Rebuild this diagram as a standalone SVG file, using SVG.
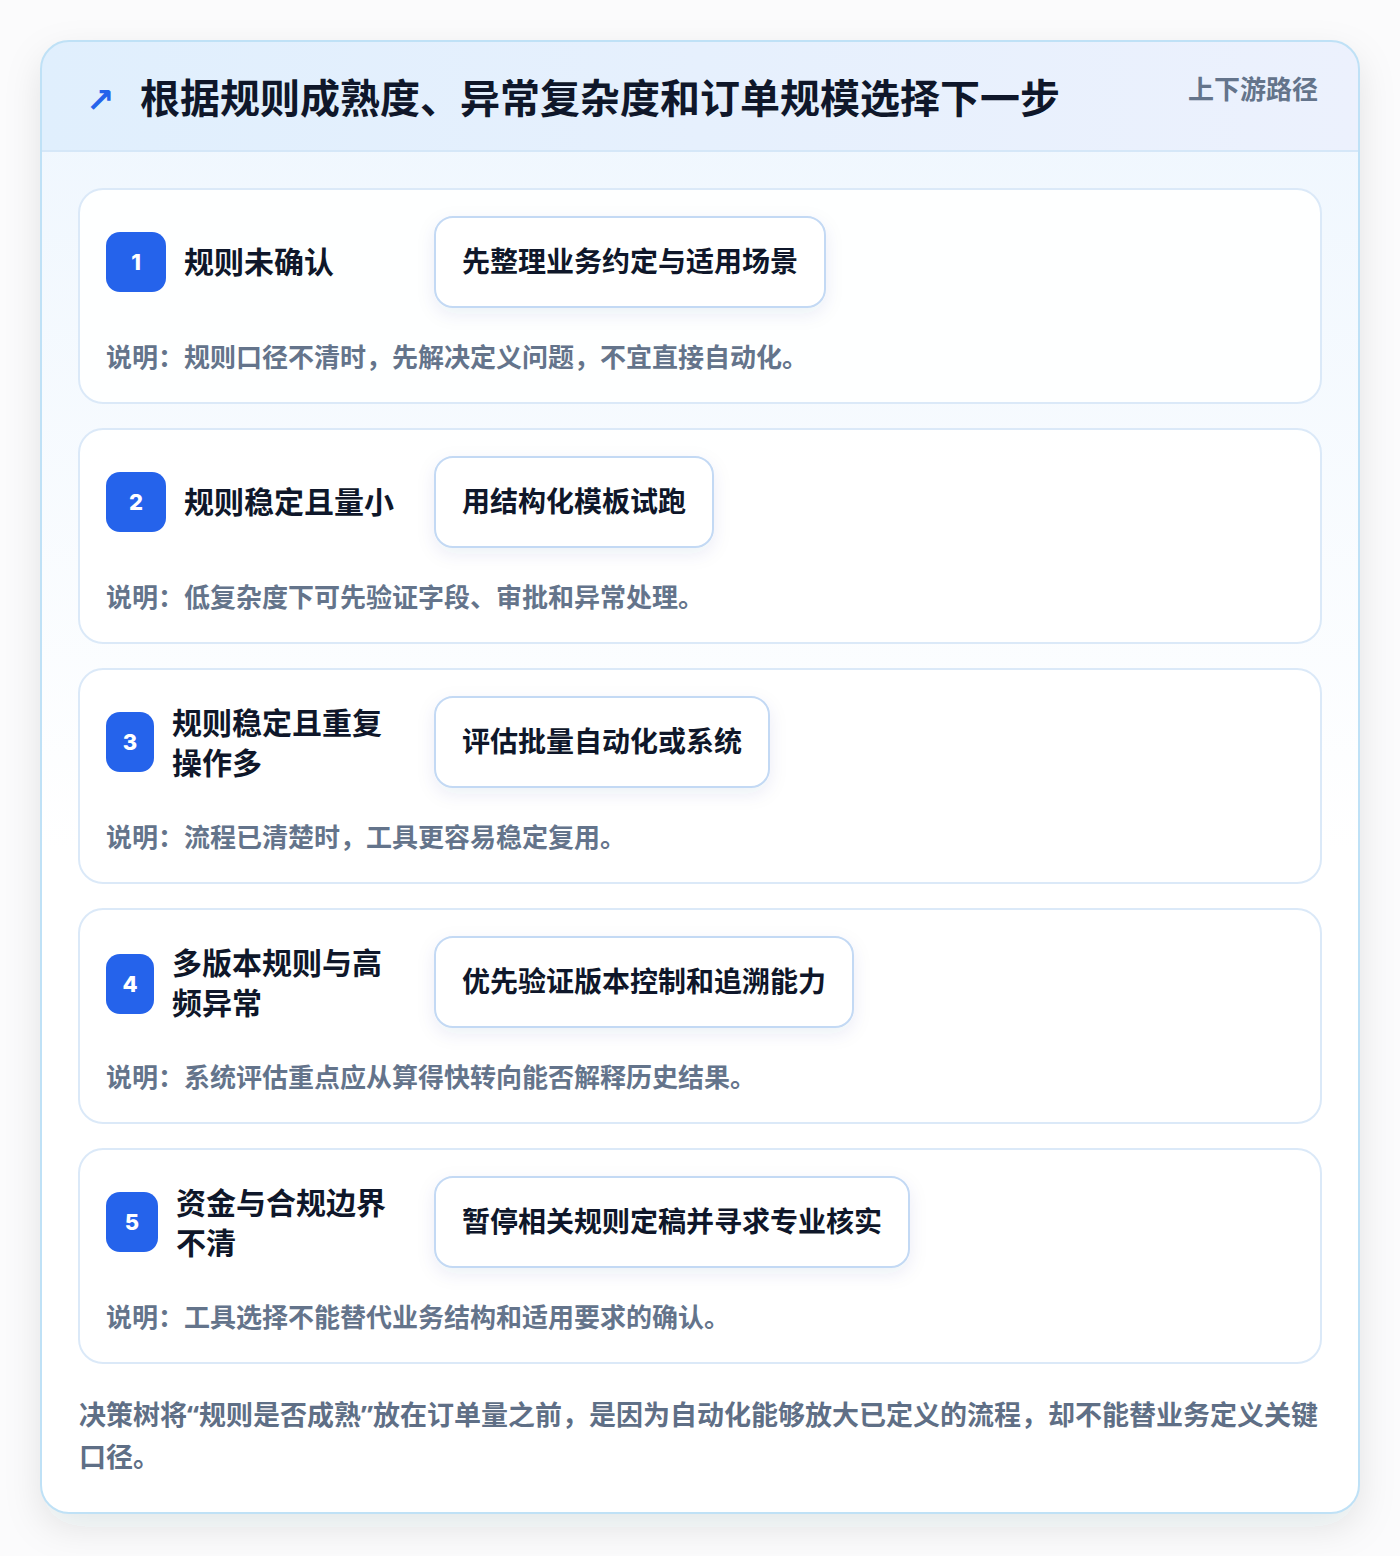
<svg xmlns="http://www.w3.org/2000/svg" width="1400" height="1556" viewBox="0 0 1400 1556">
<defs>
<linearGradient id="hdr" x1="0" y1="0" x2="1" y2="0"><stop offset="0" stop-color="#e0effd"/><stop offset="1" stop-color="#ecf1fd"/></linearGradient>
<linearGradient id="body" x1="0" y1="0" x2="0" y2="1"><stop offset="0" stop-color="#eef6fe"/><stop offset="0.55" stop-color="#ffffff"/><stop offset="1" stop-color="#ffffff"/></linearGradient>
<filter id="sh" x="-10%" y="-10%" width="120%" height="120%"><feDropShadow dx="0" dy="14" stdDeviation="18" flood-color="#1e293b" flood-opacity="0.10"/></filter>
<filter id="bsh" x="-20%" y="-30%" width="140%" height="170%"><feDropShadow dx="0" dy="6" stdDeviation="9" flood-color="#1e3a8a" flood-opacity="0.08"/></filter>
<clipPath id="cc"><rect x="41" y="41" width="1318" height="1472" rx="28"/></clipPath>
<style>
text{font-family:"Noto Sans CJK SC","Noto Sans",sans-serif;font-weight:700}
.card{fill:#ffffff;fill-opacity:0.9;stroke:#dbe9f8;stroke-width:2}
.badge{fill:#2563eb}
.num{fill:#ffffff;font-family:Inter,"Noto Sans",sans-serif;font-size:22px;font-weight:800;text-anchor:middle}
.lab{fill:#0f172a;font-size:30px}
.act{fill:#ffffff;stroke:#c3d9f4;stroke-width:2}
.actt{fill:#0f172a;font-size:28px}
.note{fill:#64748b;font-size:26px}
.q{font-family:"Noto Sans",sans-serif}
</style>
</defs>
<rect width="1400" height="1556" fill="#fbfbfc"/>
<g id="container">
<rect x="41" y="41" width="1318" height="1472" rx="28" fill="url(#body)" filter="url(#sh)"/>
<g clip-path="url(#cc)">
<rect x="41" y="41" width="1318" height="110" fill="url(#hdr)"/>
<rect x="41" y="150" width="1318" height="2" fill="#d5e7f8"/>
</g>
<rect x="41" y="41" width="1318" height="1472" rx="28" fill="none" stroke="#bfe1f6" stroke-width="2"/>
</g>
<g id="header">
<text x="86" y="112" font-size="34" fill="#2563eb" style="font-family:'DejaVu Sans',sans-serif">↗</text>
<text x="140" y="113" font-size="40" fill="#0f172a">根据规则成熟度、异常复杂度和订单规模选择下一步</text>
<text x="1318" y="99" font-size="26" fill="#64748b" text-anchor="end">上下游路径</text>
</g>
<g id="node1">
<rect class="card" x="79" y="189" width="1242" height="214" rx="24"/>
<rect class="badge" x="106" y="232" width="60" height="60" rx="14"/>
<text class="num" x="136" y="270">1</text>
<text class="lab" x="184" y="273">规则未确认</text>
<rect class="act" x="435" y="217" width="390" height="90" rx="18" filter="url(#bsh)"/>
<text class="actt" x="462" y="272">先整理业务约定与适用场景</text>
<text class="note" x="106" y="367">说明：规则口径不清时，先解决定义问题，不宜直接自动化。</text>
</g>
<g id="node2">
<rect class="card" x="79" y="429" width="1242" height="214" rx="24"/>
<rect class="badge" x="106" y="472" width="60" height="60" rx="14"/>
<text class="num" x="136" y="510">2</text>
<text class="lab" x="184" y="513">规则稳定且量小</text>
<rect class="act" x="435" y="457" width="278" height="90" rx="18" filter="url(#bsh)"/>
<text class="actt" x="462" y="512">用结构化模板试跑</text>
<text class="note" x="106" y="607">说明：低复杂度下可先验证字段、审批和异常处理。</text>
</g>
<g id="node3">
<rect class="card" x="79" y="669" width="1242" height="214" rx="24"/>
<rect class="badge" x="106" y="712" width="48" height="60" rx="14"/>
<text class="num" x="130" y="750">3</text>
<text class="lab" x="172" y="734">规则稳定且重复</text>
<text class="lab" x="172" y="774">操作多</text>
<rect class="act" x="435" y="697" width="334" height="90" rx="18" filter="url(#bsh)"/>
<text class="actt" x="462" y="752">评估批量自动化或系统</text>
<text class="note" x="106" y="847">说明：流程已清楚时，工具更容易稳定复用。</text>
</g>
<g id="node4">
<rect class="card" x="79" y="909" width="1242" height="214" rx="24"/>
<rect class="badge" x="106" y="954" width="48" height="60" rx="14"/>
<text class="num" x="130" y="992">4</text>
<text class="lab" x="172" y="974">多版本规则与高</text>
<text class="lab" x="172" y="1014">频异常</text>
<rect class="act" x="435" y="937" width="418" height="90" rx="18" filter="url(#bsh)"/>
<text class="actt" x="462" y="992">优先验证版本控制和追溯能力</text>
<text class="note" x="106" y="1087">说明：系统评估重点应从算得快转向能否解释历史结果。</text>
</g>
<g id="node5">
<rect class="card" x="79" y="1149" width="1242" height="214" rx="24"/>
<rect class="badge" x="106" y="1192" width="52" height="60" rx="14"/>
<text class="num" x="132" y="1230">5</text>
<text class="lab" x="176" y="1214">资金与合规边界</text>
<text class="lab" x="176" y="1254">不清</text>
<rect class="act" x="435" y="1177" width="474" height="90" rx="18" filter="url(#bsh)"/>
<text class="actt" x="462" y="1232">暂停相关规则定稿并寻求专业核实</text>
<text class="note" x="106" y="1327">说明：工具选择不能替代业务结构和适用要求的确认。</text>
</g>
<g id="footer">
<text x="79" y="1425" font-size="27" fill="#5f6f86">决策树将<tspan class="q">“</tspan>规则是否成熟<tspan class="q">”</tspan>放在订单量之前，是因为自动化能够放大已定义的流程，却不能替业务定义关键</text>
<text x="79" y="1467" font-size="27" fill="#5f6f86">口径。</text>
</g>
<g id="connectors"/>
</svg>
